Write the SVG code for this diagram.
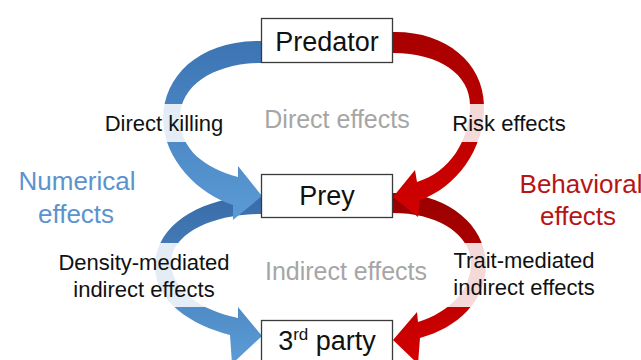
<svg xmlns="http://www.w3.org/2000/svg" width="641" height="360" viewBox="0 0 641 360">
  <style>
    text { font-family: "Liberation Sans", Arial, sans-serif; }
    .box { fill: #ffffff; stroke: #3a3a3a; stroke-width: 1.3; }
    .node-label { font-size: 27px; fill: #111111; text-anchor: middle; }
    .effect { font-size: 25px; fill: #a6a6a6; text-anchor: middle; }
    .arrow-label { font-size: 22px; fill: #111111; text-anchor: middle; }
    .label-bg { fill: #ffffff; fill-opacity: 0.85; }
    .numerical { font-size: 26px; fill: #5b93cf; text-anchor: middle; }
    .behavioral { font-size: 26px; fill: #b81414; text-anchor: middle; }
  </style>
  <defs>
    <linearGradient id="blueTop" gradientUnits="userSpaceOnUse" x1="0" y1="41" x2="0" y2="220">
      <stop offset="0" stop-color="#3c74b4"/>
      <stop offset="1" stop-color="#5b9bd5"/>
    </linearGradient>
    <linearGradient id="blueLow" gradientUnits="userSpaceOnUse" x1="0" y1="196" x2="0" y2="360">
      <stop offset="0" stop-color="#386ca8"/>
      <stop offset="1" stop-color="#5b9bd5"/>
    </linearGradient>
    <linearGradient id="redTop" gradientUnits="userSpaceOnUse" x1="0" y1="32" x2="0" y2="217">
      <stop offset="0" stop-color="#a80000"/>
      <stop offset="1" stop-color="#d20000"/>
    </linearGradient>
    <linearGradient id="redLow" gradientUnits="userSpaceOnUse" x1="0" y1="193" x2="0" y2="360">
      <stop offset="0" stop-color="#980000"/>
      <stop offset="1" stop-color="#d40000"/>
    </linearGradient>
  </defs>

  <rect width="641" height="360" fill="#ffffff"/>

  <!-- curved block arrows -->
  <g id="connectors">
    <!-- prey to third party, left side -->
    <path id="density-arrow" fill="url(#blueLow)" d="M 262 196 C 205 196, 158 222, 155 263 C 153 300, 190 325, 230 335 L 232 364 L 262 336 L 238 307 L 238 318 C 200 310, 172 290, 171 263 C 171 235, 210 214, 262 214 Z"/>
    <!-- prey to third party, right side -->
    <path id="trait-arrow" fill="url(#redLow)" d="M 393 193 C 445 193, 484 222, 486 263 C 487 300, 458 328, 420 338 L 418 364 L 393 340 L 417 312 L 418 322 C 450 312, 471 290, 471 263 C 471 236, 440 213, 393 213 Z"/>
    <!-- predator to prey, left side -->
    <path id="killing-arrow" fill="url(#blueTop)" d="M 262 41 C 200 40, 164 75, 163 118 C 163 160, 200 195, 233 205 L 233 220 L 262 196 L 238 166 L 238 177 C 205 168, 180 150, 180 118 C 180 85, 215 63, 262 63 Z"/>
    <!-- predator to prey, right side -->
    <path id="risk-arrow" fill="url(#redTop)" d="M 393 32 C 445 31, 483 62, 484 105 C 485 150, 455 188, 420 200 L 418 217 L 393 197 L 415 170 L 417 182 C 450 172, 470 140, 470 105 C 470 75, 440 53, 393 53 Z"/>
  </g>

  <!-- arrow labels on translucent backing -->
  <g id="label-direct-killing">
    <rect class="label-bg" x="100" y="104" width="128" height="38"/>
    <text class="arrow-label" x="164" y="131">Direct killing</text>
  </g>
  <g id="label-risk-effects">
    <rect class="label-bg" x="444" y="104" width="130" height="38"/>
    <text class="arrow-label" x="509" y="131">Risk effects</text>
  </g>
  <g id="label-density-mediated">
    <rect class="label-bg" x="52" y="243" width="185" height="64"/>
    <text class="arrow-label" x="144" y="270">Density-mediated</text>
    <text class="arrow-label" x="144" y="297">indirect effects</text>
  </g>
  <g id="label-trait-mediated">
    <rect class="label-bg" x="446" y="243" width="155" height="64"/>
    <text class="arrow-label" x="524" y="268">Trait-mediated</text>
    <text class="arrow-label" x="524" y="295">indirect effects</text>
  </g>

  <!-- category headings -->
  <g id="direct-effects">
    <text class="effect" x="337" y="128">Direct effects</text>
  </g>
  <g id="indirect-effects">
    <text class="effect" x="346" y="280">Indirect effects</text>
  </g>
  <g id="numerical-effects">
    <text class="numerical" x="77" y="190">Numerical</text>
    <text class="numerical" x="76" y="223">effects</text>
  </g>
  <g id="behavioral-effects">
    <text class="behavioral" x="581" y="193">Behavioral</text>
    <text class="behavioral" x="578" y="225">effects</text>
  </g>

  <!-- nodes -->
  <g id="predator">
    <rect class="box" x="261.5" y="18.5" width="131" height="44"/>
    <text class="node-label" x="327" y="51">Predator</text>
  </g>
  <g id="prey">
    <rect class="box" x="261.5" y="174.5" width="131" height="43"/>
    <text class="node-label" x="327" y="205">Prey</text>
  </g>
  <g id="third-party">
    <rect class="box" x="261.5" y="320.5" width="131" height="50"/>
    <text class="node-label" x="327" y="350">3<tspan font-size="17" dy="-10">rd</tspan><tspan dy="10"> party</tspan></text>
  </g>
</svg>
